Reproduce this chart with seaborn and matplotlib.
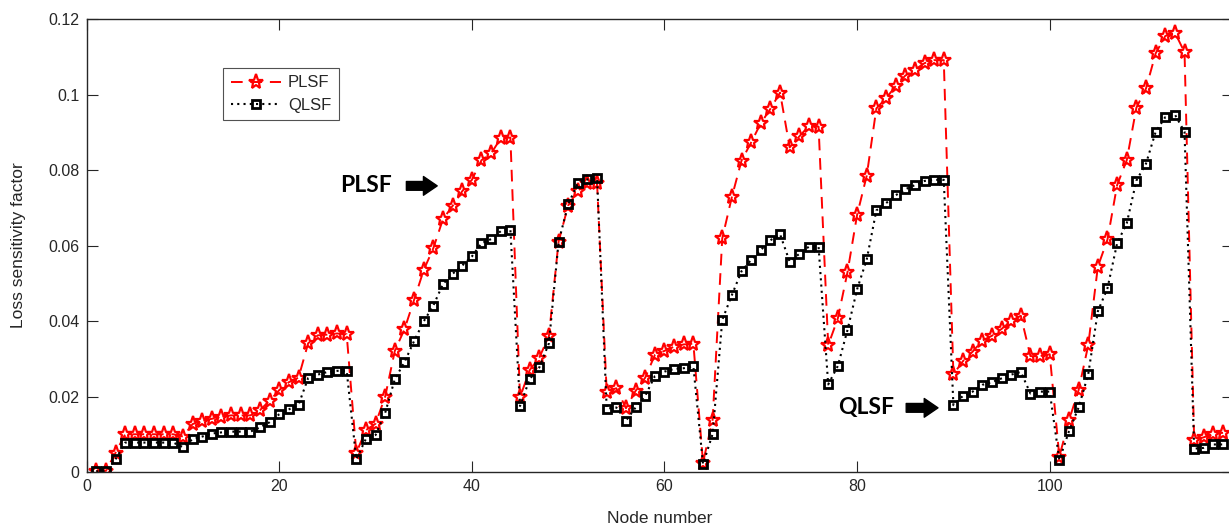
import numpy as np
import pandas as pd
import matplotlib
matplotlib.use("Agg")
import matplotlib.pyplot as plt
from matplotlib.lines import Line2D
import seaborn as sns

# Node indices of the 118-bus system
nodes = list(range(1, 119))

# Active-power loss sensitivity factor per node
plsf = [
    0.0003, 0.0003, 0.0051, 0.0100, 0.0100, 0.0100, 0.0100, 0.0100, 0.0100, 0.0094,
    0.0127, 0.0136, 0.0141, 0.0147, 0.0150, 0.0150, 0.0150, 0.0164, 0.0189, 0.0217,
    0.0238, 0.0250, 0.0341, 0.0362, 0.0364, 0.0367, 0.0365, 0.0051, 0.0111, 0.0128,
    0.0200, 0.0321, 0.0378, 0.0456, 0.0535, 0.0593, 0.0670, 0.0705, 0.0744, 0.0774,
    0.0826, 0.0844, 0.0884, 0.0886, 0.0198, 0.0270, 0.0303, 0.0360, 0.0610, 0.0706,
    0.0745, 0.0765, 0.0765, 0.0213, 0.0222, 0.0169, 0.0215, 0.0250, 0.0310, 0.0321,
    0.0332, 0.0338, 0.0340, 0.0025, 0.0139, 0.0619, 0.0729, 0.0825, 0.0873, 0.0924,
    0.0962, 0.1005, 0.0860, 0.0889, 0.0917, 0.0915, 0.0336, 0.0407, 0.0529, 0.0681,
    0.0785, 0.0963, 0.0990, 0.1022, 0.1050, 0.1066, 0.1083, 0.1091, 0.1091, 0.0259,
    0.0294, 0.0319, 0.0348, 0.0361, 0.0379, 0.0400, 0.0414, 0.0307, 0.0307, 0.0312,
    0.0041, 0.0137, 0.0217, 0.0336, 0.0544, 0.0616, 0.0760, 0.0826, 0.0965, 0.1016,
    0.1109, 0.1155, 0.1164, 0.1112, 0.0085, 0.0092, 0.0101, 0.0104,
]

# Reactive-power loss sensitivity factor per node
qlsf = [
    0.0002, 0.0002, 0.0034, 0.0078, 0.0078, 0.0078, 0.0078, 0.0078, 0.0078, 0.0066,
    0.0087, 0.0094, 0.0102, 0.0105, 0.0107, 0.0107, 0.0107, 0.0118, 0.0132, 0.0153,
    0.0166, 0.0178, 0.0249, 0.0258, 0.0265, 0.0268, 0.0268, 0.0034, 0.0088, 0.0098,
    0.0157, 0.0246, 0.0291, 0.0347, 0.0399, 0.0441, 0.0498, 0.0525, 0.0547, 0.0571,
    0.0606, 0.0617, 0.0638, 0.0642, 0.0175, 0.0246, 0.0277, 0.0341, 0.0609, 0.0709,
    0.0765, 0.0775, 0.0778, 0.0168, 0.0171, 0.0136, 0.0171, 0.0202, 0.0254, 0.0266,
    0.0273, 0.0275, 0.0280, 0.0021, 0.0101, 0.0403, 0.0469, 0.0532, 0.0562, 0.0588,
    0.0614, 0.0630, 0.0557, 0.0578, 0.0597, 0.0597, 0.0232, 0.0281, 0.0376, 0.0484,
    0.0563, 0.0693, 0.0712, 0.0733, 0.0749, 0.0760, 0.0771, 0.0774, 0.0774, 0.0177,
    0.0202, 0.0213, 0.0231, 0.0238, 0.0248, 0.0258, 0.0265, 0.0208, 0.0213, 0.0213,
    0.0032, 0.0108, 0.0171, 0.0259, 0.0426, 0.0487, 0.0606, 0.0659, 0.0772, 0.0817,
    0.0901, 0.0940, 0.0947, 0.0901, 0.0062, 0.0064, 0.0073, 0.0073,
]

x_ticks = [0, 20, 40, 60, 80, 100]
y_ticks = [0, 0.02, 0.04, 0.06, 0.08, 0.1, 0.12]
y_tick_labels = ["0", "0.02", "0.04", "0.06", "0.08", "0.1", "0.12"]

df = pd.DataFrame({"node": nodes, "PLSF": plsf, "QLSF": qlsf})

sns.set_style("white")
plt.rcParams["font.family"] = ["Liberation Sans", "DejaVu Sans"]
axis_gray = "#262626"

fig = plt.figure(figsize=(12.29, 5.28), dpi=100)
ax = fig.add_axes([0.0705, 0.106, 0.9325, 0.858])

p_style = dict(color="red", linestyle=(0, (6, 4)), linewidth=1.4, marker="*",
               markersize=11, markerfacecolor="none", markeredgecolor="red",
               markeredgewidth=1.6)
q_style = dict(color="black", linestyle=(0, (1, 2)), linewidth=1.5, marker="s",
               markersize=6, markerfacecolor="none", markeredgecolor="black",
               markeredgewidth=2.0)

sns.lineplot(data=df, x="node", y="PLSF", ax=ax, legend=False, **p_style)
sns.lineplot(data=df, x="node", y="QLSF", ax=ax, legend=False, **q_style)

ax.set_xlim(0, 119)
ax.set_ylim(0, 0.12)
ax.set_xticks(x_ticks)
ax.set_yticks(y_ticks)
ax.set_yticklabels(y_tick_labels)

for side in ["left", "right", "top", "bottom"]:
    ax.spines[side].set_visible(True)
    ax.spines[side].set_color(axis_gray)
    ax.spines[side].set_linewidth(1.0)
ax.tick_params(axis="both", which="both", direction="in", length=8, width=0.8,
               color=axis_gray, labelcolor=axis_gray, labelsize=11.5,
               top=True, right=True, bottom=True, left=True, pad=5)

ax.set_xlabel("Node number", fontsize=12.5, color=axis_gray, labelpad=12)
ax.set_ylabel("Loss sensitivity factor", fontsize=12.5, color=axis_gray, labelpad=16)

handles = [Line2D([], [], **p_style), Line2D([], [], **q_style)]
leg = ax.legend(handles, ["PLSF", "QLSF"], loc="upper left",
                bbox_to_anchor=(0.119, 0.892), fontsize=12, numpoints=1,
                frameon=True, fancybox=False, edgecolor=axis_gray, handlelength=3.0,
                borderpad=0.45, labelspacing=0.45, handletextpad=0.45, borderaxespad=0)
leg.get_frame().set_linewidth(0.8)

# Callout labels with block arrows
callouts = [("PLSF", 26.3, 0.0758, 33.2, 36.4), ("QLSF", 78.0, 0.0170, 85.1, 88.4)]
for text, tx, ty, ax0, ax1 in callouts:
    ax.text(tx, ty, text, fontsize=16.5, fontweight="bold", family=["Lato", "DejaVu Sans"],
            color="black", va="center", ha="left")
    ax.annotate("", xy=(ax1, ty), xytext=(ax0, ty),
                arrowprops=dict(arrowstyle="simple,head_length=0.55,head_width=0.75,tail_width=0.35",
                                color="black", shrinkA=0, shrinkB=0, mutation_scale=18))

fig.savefig("out.png", dpi=100)
